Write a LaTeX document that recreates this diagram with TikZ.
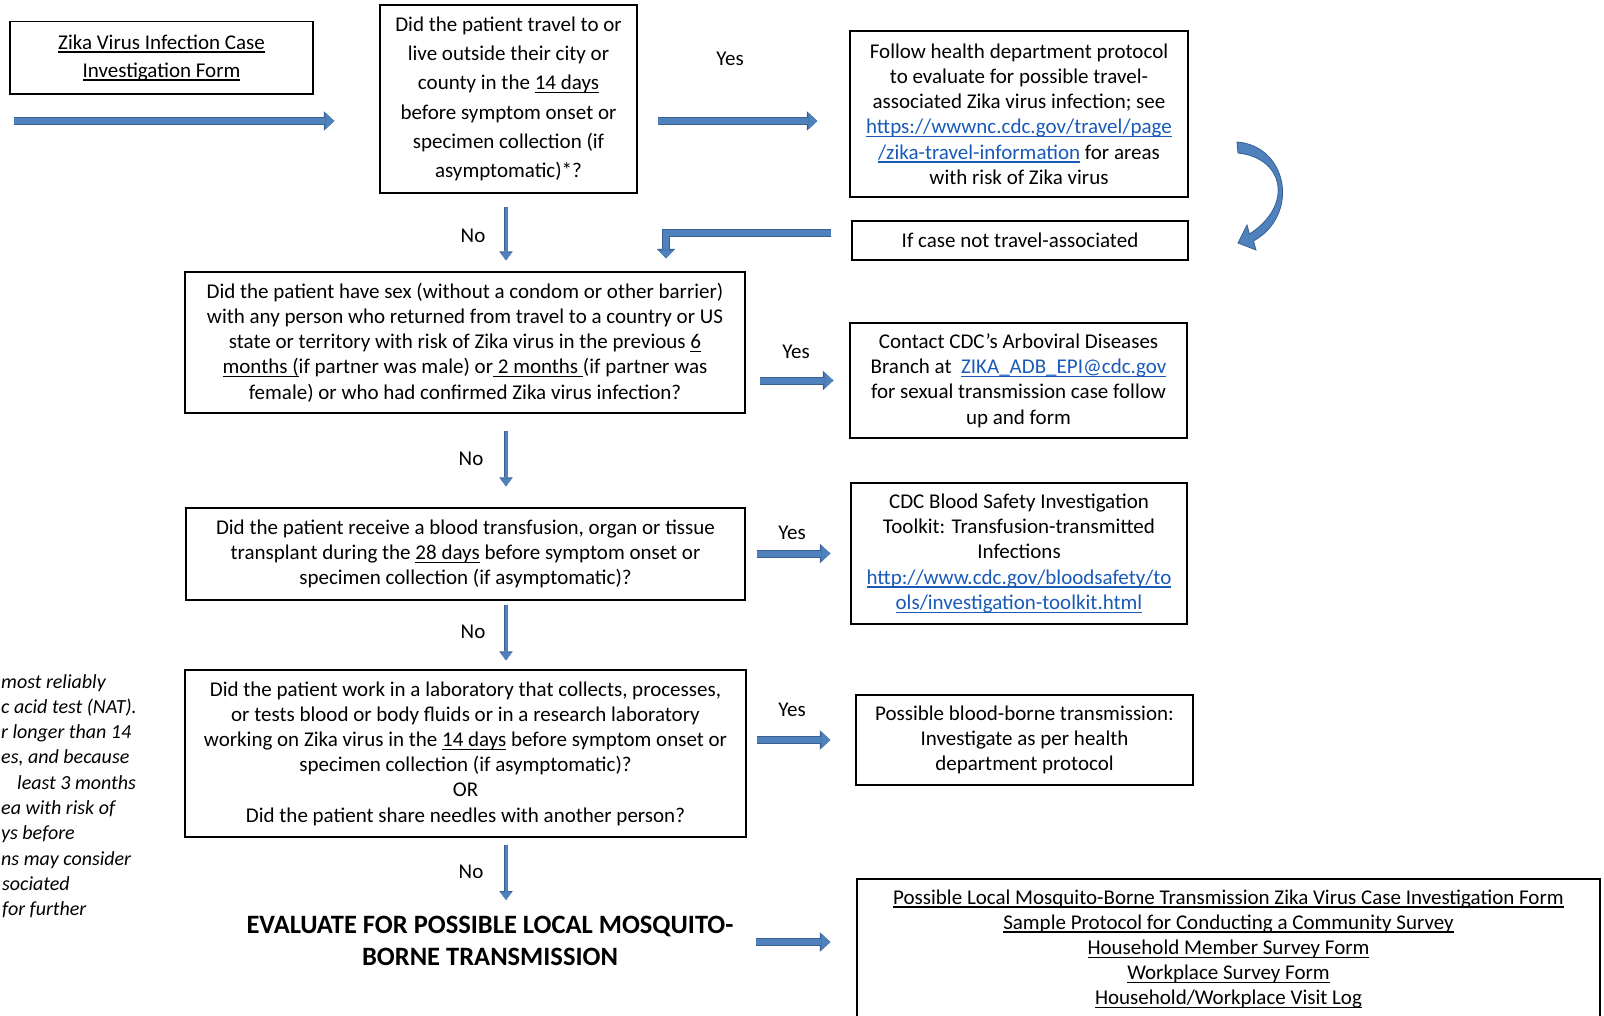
\documentclass[tikz,border=0pt]{standalone}
\usepackage{fontspec}
\setmainfont{Carlito}
\usetikzlibrary{arrows.meta}
\definecolor{arrfill}{RGB}{79,129,189}
\definecolor{arredge}{RGB}{58,96,145}
\definecolor{linkc}{RGB}{25,90,185}
\newsavebox\myulbox
\newcommand{\myul}[1]{\sbox\myulbox{#1}\rlap{\rule[-3.5pt]{\wd\myulbox}{1.3pt}}\usebox\myulbox}
\newcommand{\lnk}[1]{\textcolor{linkc}{\myul{#1}}}
\begin{document}
\begin{tikzpicture}[x=1pt,y=-1pt,
  zbox/.style={draw=black,line width=1.3pt,inner sep=0pt,align=center,font=\fontsize{21}{25.2}\selectfont},
  lbl/.style={font=\fontsize{21}{24}\selectfont,inner sep=0pt},
  ital/.style={font=\fontsize{20}{24}\selectfont\itshape,inner sep=0pt,anchor=base west},
  harr/.style={draw=arrfill,line width=6pt,-{Triangle[length=9pt,width=16.5pt,line width=0pt]},
    preaction={draw=arredge,line width=8pt,-{Triangle[length=10.5pt,width=19.5pt,line width=0pt]}}},
  varr/.style={draw=arrfill,line width=3pt,-{Triangle[length=8pt,width=11.5pt,line width=0pt]},
    preaction={draw=arredge,line width=4.5pt,-{Triangle[length=9pt,width=13.5pt,line width=0pt]}}},
  barr/.style={line join=miter,draw=arrfill,line width=6.5pt,-{Triangle[length=8pt,width=15.5pt,line width=0pt]},
    preaction={line join=miter,draw=arredge,line width=8.5pt,-{Triangle[length=9.5pt,width=18.5pt,line width=0pt]}}}]
\useasboundingbox (0,0) rectangle (1604,1016);
\clip (0,0) rectangle (1604,1016);

% boxes
\node[zbox,minimum width=303pt,minimum height=72.5pt,font=\fontsize{21}{28}\selectfont] (form) at (161.5,57.75)
  {\myul{Zika Virus Infection Case}\\\myul{Investigation Form}};
\node[zbox,minimum width=257pt,minimum height=188pt,font=\fontsize{21}{29.2}\selectfont] (q1) at (508.5,99)
  {Did the patient travel to or\\live outside their city or\\county in the \myul{14 days}\\before symptom onset or\\specimen collection (if\\asymptomatic)*?};
\node[zbox,minimum width=338pt,minimum height=166pt] (travel) at (1019,114)
  {Follow health department protocol\\to evaluate for possible travel-\\associated Zika virus infection; see\\\lnk{https://wwwnc.cdc.gov/travel/page}\\\lnk{/zika-travel-information} for areas\\with risk of Zika virus};
\node[zbox,minimum width=336pt,minimum height=39pt] (ntravel) at (1020,240.5)
  {If case not travel-associated};
\node[zbox,minimum width=560pt,minimum height=141pt] (q2) at (465,342.5)
  {Did the patient have sex (without a condom or other barrier)\\with any person who returned from travel to a country or US\\state or territory with risk of Zika virus in the previous \myul{6}\\\myul{months (}if partner was male) or\myul{ 2 months }(if partner was\\female) or who had confirmed Zika virus infection?};
\node[zbox,minimum width=337pt,minimum height=115pt] (contact) at (1018.5,380.5)
  {Contact CDC’s Arboviral Diseases\\Branch at~~\lnk{ZIKA\_ADB\_EPI@cdc.gov}\\for sexual transmission case follow\\up and form};
\node[zbox,minimum width=559pt,minimum height=92pt] (q3) at (465.5,554)
  {Did the patient receive a blood transfusion, organ or tissue\\transplant during the \myul{28 days} before symptom onset or\\specimen collection (if asymptomatic)?};
\node[zbox,minimum width=336pt,minimum height=141pt] (blood) at (1019,553.5)
  {CDC Blood Safety Investigation\\Toolkit: Transfusion-transmitted\\Infections\\\lnk{http://www.cdc.gov/bloodsafety/to}\\\lnk{ols/investigation-toolkit.html}};
\node[zbox,minimum width=561pt,minimum height=167pt] (q4) at (465.5,753.5)
  {Did the patient work in a laboratory that collects, processes,\\or tests blood or body fluids or in a research laboratory\\working on Zika virus in the \myul{14 days} before symptom onset or\\specimen collection (if asymptomatic)?\\OR\\Did the patient share needles with another person?};
\node[zbox,minimum width=337pt,minimum height=90pt] (bb) at (1024.5,740)
  {Possible blood-borne transmission:\\Investigate as per health\\department protocol};
\node[zbox,minimum width=743pt,minimum height=140pt] (final) at (1228.5,949)
  {\myul{Possible Local Mosquito-Borne Transmission Zika Virus Case Investigation Form}\\\myul{Sample Protocol for Conducting a Community Survey}\\\myul{Household Member Survey Form}\\\myul{Workplace Survey Form}\\\myul{Household/Workplace Visit Log}};
\node[inner sep=0pt,align=center,minimum width=510pt,font=\fontsize{26.5}{32.5}\selectfont\bfseries] (eval) at (490,941)
  {EVALUATE FOR POSSIBLE LOCAL MOSQUITO-\\BORNE TRANSMISSION};

% labels
\node[lbl] (yes1) at (730,59) {Yes};
\node[lbl] (no1) at (473,236) {No};
\node[lbl] (yes2) at (796,352) {Yes};
\node[lbl] (no2) at (471,459) {No};
\node[lbl] (yes3) at (792,533) {Yes};
\node[lbl] (no3) at (473,632) {No};
\node[lbl] (yes4) at (792,710) {Yes};
\node[lbl] (no4) at (471,872) {No};

% cut-off footnote text on the left
\foreach \t/\xx [count=\i] in {most reliably/1,c acid test (NAT)./1,r longer than 14/1,{es, and because}/1,least 3 months/17,ea with risk of/1,ys before/1,ns may consider/1,sociated/2,for further/2}
  \node[ital] (fn\i) at (\xx,688+25.3*\i-25.3) {\t};

% helper coordinates
\coordinate (xv) at (506,0);
\coordinate (xb) at (666,0);
\coordinate (a1s) at (14,121);
\coordinate (y121) at (0,121);
\coordinate (y233) at (0,233);
\coordinate (y942) at (0,942);
\coordinate (v4e) at (506,900);

% arrows
\draw[harr,shorten >=45pt] (a1s) -- (q1.west |- a1s);
\draw[harr,shorten <=20pt,shorten >=32pt] (q1.east |- y121) -- (travel.west |- y121);
\draw[harr,shorten <=14pt,shorten >=16pt] (q2.east |- contact.west) -- (contact.west);
\draw[harr,shorten <=11pt,shorten >=20pt] (q3.east |- blood.west) -- (blood.west);
\draw[harr,shorten <=10pt,shorten >=25pt] (q4.east |- bb.west) -- (bb.west);
\draw[harr,shorten <=11pt,shorten >=26pt] (eval.east |- y942) -- (final.west |- y942);

\draw[varr,shorten <=13pt,shorten >=11pt] (q1.south -| xv) -- (q2.north -| xv);
\draw[varr,shorten <=17pt,shorten >=21pt] (q2.south -| xv) -- (q3.north -| xv);
\draw[varr,shorten <=4pt,shorten >=9pt] (q3.south -| xv) -- (q4.north -| xv);
\draw[varr,shorten <=7pt] (q4.south -| xv) -- (v4e);

\draw[barr,shorten <=20pt,shorten >=13pt] (ntravel.west |- y233) -| (q2.north -| xb);

% curved arrow from travel box to the not-travel box
\filldraw[fill=arrfill,draw=arredge,line width=0.8pt,line join=miter]
  (1237,142) .. controls (1288,146) and (1300,215) .. (1253.5,241) -- (1256,250) -- (1238,243) -- (1247,225)
  -- (1249.5,234) .. controls (1294,205) and (1284,158) .. (1238,153) -- cycle;
\end{tikzpicture}
\end{document}
